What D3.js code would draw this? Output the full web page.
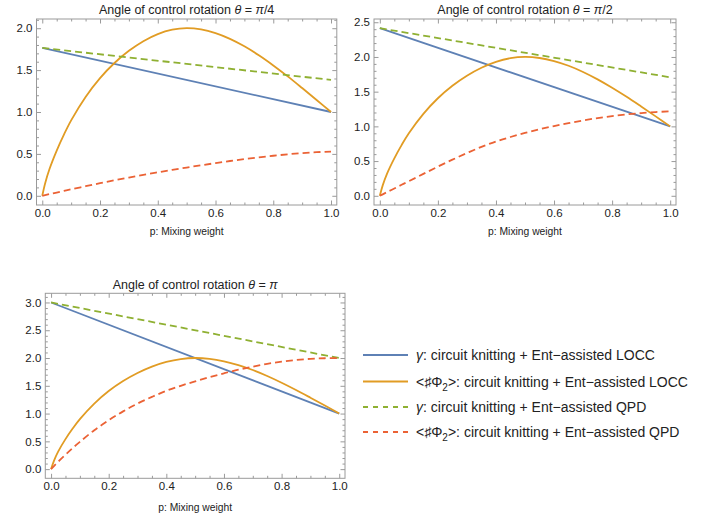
<!DOCTYPE html>
<html>
<head>
<meta charset="utf-8">
<script src="https://cdn.jsdelivr.net/npm/d3@7"></script>
<style>
body{margin:0;background:#fff}
text{font-family:"Liberation Sans",Arial,sans-serif;fill:#222}
</style>
</head>
<body>
<div id="vis"></div>
<script>
// ---- data ----
var thetaLabels = ["π/4", "π/2", "π"]
var pEnds = [0, 1]
var pGrid = [0, 0.01, 0.025, 0.05, 0.075, 0.1, 0.15, 0.2, 0.25, 0.3, 0.35, 0.4, 0.45, 0.5,
             0.55, 0.6, 0.65, 0.7, 0.75, 0.8, 0.85, 0.9, 0.95, 1]

// gamma, circuit knitting + Ent-assisted LOCC (straight lines)
var gammaLOCC = [[1.765, 1.0], [2.414, 1.0], [3.0, 1.0]]
// gamma, circuit knitting + Ent-assisted QPD (straight lines)
var gammaQPD = [[1.765, 1.383], [2.414, 1.707], [3.0, 2.0]]
// <#Phi2>, LOCC (same curve in all three panels)
var phiLOCC = [0, 0.15, 0.32, 0.54, 0.73, 0.90, 1.18, 1.405, 1.585, 1.73, 1.845, 1.93, 1.982, 2.0,
               1.985, 1.941, 1.873, 1.784, 1.677, 1.556, 1.425, 1.286, 1.144, 1.0]
// <#Phi2>, QPD, one row per panel
var phiQPD = [
  [0, 0.008, 0.02, 0.039, 0.058, 0.077, 0.114, 0.15, 0.185, 0.218, 0.25, 0.28, 0.309, 0.337,
   0.364, 0.39, 0.415, 0.438, 0.459, 0.478, 0.495, 0.51, 0.52, 0.528],
  [0, 0.021, 0.053, 0.105, 0.158, 0.21, 0.315, 0.42, 0.52, 0.615, 0.705, 0.782, 0.847, 0.905,
   0.958, 1.005, 1.047, 1.085, 1.119, 1.148, 1.172, 1.191, 1.206, 1.217],
  [0, 0.055, 0.135, 0.26, 0.38, 0.49, 0.70, 0.88, 1.04, 1.18, 1.30, 1.41, 1.50, 1.58,
   1.655, 1.725, 1.79, 1.845, 1.895, 1.935, 1.965, 1.985, 1.996, 2.0]
]

var xTicks = [0, 0.2, 0.4, 0.6, 0.8, 1.0]
var yTicks = [[0, 0.5, 1.0, 1.5, 2.0], [0, 0.5, 1.0, 1.5, 2.0, 2.5], [0, 0.5, 1.0, 1.5, 2.0, 2.5, 3.0]]
var xLabel = "p: Mixing weight"

var seriesColors = ["#5e81b5", "#e19c24", "#8fb032", "#eb6235"]
var legendNames = ["LOCC", "LOCC", "QPD", "QPD"]

// ---- layout ----
var W = 714, H = 518
var frames = [
  {x0: 36.5, x1: 336.8, y0: 19, y1: 205, titleY: 14, labelY: 235},
  {x0: 374, x1: 676, y0: 19, y1: 205, titleY: 14, labelY: 235},
  {x0: 45.3, x1: 345, y0: 293.3, y1: 478.3, titleY: 289, labelY: 511}
]

var svg = d3.select("#vis").append("svg").attr("width", W).attr("height", H)

function drawPanel(i){
    var f = frames[i]
    var g = svg.append("g")
    var ymax = d3.max([d3.max(gammaLOCC[i]), d3.max(gammaQPD[i]), d3.max(phiLOCC), d3.max(phiQPD[i])])
    var pad = 0.055 * ymax
    var x = d3.scaleLinear().domain([-0.02, 1.02]).range([f.x0, f.x1])
    var y = d3.scaleLinear().domain([-pad, ymax + pad]).range([f.y1, f.y0])

    // minor ticks
    var xMinor = d3.range(0, 1.001, 0.05).filter(function(v){ return xTicks.indexOf(+v.toFixed(2)) < 0 })
    var yMinor = d3.range(0, ymax + pad, 0.1).filter(function(v){ return Math.abs(v*2 - Math.round(v*2)) > 0.01 })

    function axis(a, scale, vals, size, pos, label){
        var ax = a(scale).tickValues(vals).tickSizeInner(-size).tickSizeOuter(0).tickPadding(4)
        ax.tickFormat(label ? d3.format(".1f") : "")
        var gg = g.append("g").attr("transform", pos).call(ax)
        gg.select(".domain").remove()
        gg.selectAll("line").attr("stroke", "#9a9a9a")
        gg.selectAll("text").attr("font-size", 11.5).attr("fill", "#333")
            .style("font-family", '"Liberation Sans",Arial,sans-serif')
        return gg
    }
    axis(d3.axisBottom, x, xTicks, 4.5, "translate(0," + f.y1 + ")", true)
    axis(d3.axisBottom, x, xMinor, 2.5, "translate(0," + f.y1 + ")", false)
    axis(d3.axisTop, x, xTicks, 4.5, "translate(0," + f.y0 + ")", false)
    axis(d3.axisTop, x, xMinor, 2.5, "translate(0," + f.y0 + ")", false)
    axis(d3.axisLeft, y, yTicks[i], 4.5, "translate(" + f.x0 + ",0)", true)
    axis(d3.axisLeft, y, yMinor, 2.5, "translate(" + f.x0 + ",0)", false)
    axis(d3.axisRight, y, yTicks[i], 4.5, "translate(" + f.x1 + ",0)", false)
    axis(d3.axisRight, y, yMinor, 2.5, "translate(" + f.x1 + ",0)", false)

    g.append("rect").attr("x", f.x0).attr("y", f.y0)
        .attr("width", f.x1 - f.x0).attr("height", f.y1 - f.y0)
        .attr("fill", "none").attr("stroke", "#9a9a9a").attr("stroke-width", 1)

    // curves
    var clip = "clip" + i
    g.append("clipPath").attr("id", clip).append("rect")
        .attr("x", f.x0).attr("y", f.y0).attr("width", f.x1 - f.x0).attr("height", f.y1 - f.y0)
    var plot = g.append("g").attr("clip-path", "url(#" + clip + ")")
    var straight = d3.line().x(function(d){ return x(d[0]) }).y(function(d){ return y(d[1]) })
    var smooth = d3.line().x(function(d){ return x(d[0]) }).y(function(d){ return y(d[1]) }).curve(d3.curveCatmullRom)

    var series = [
        {pts: d3.zip(pEnds, gammaLOCC[i]), line: straight, dash: null},
        {pts: d3.zip(pGrid, phiLOCC), line: smooth, dash: null},
        {pts: d3.zip(pEnds, gammaQPD[i]), line: straight, dash: "7,4"},
        {pts: d3.zip(pGrid, phiQPD[i]), line: smooth, dash: "7,4"}
    ]
    series.forEach(function(s, k){
        plot.append("path").attr("d", s.line(s.pts))
            .attr("fill", "none").attr("stroke", seriesColors[k])
            .attr("stroke-width", 1.8)
            .attr("stroke-dasharray", s.dash)
    })

    // title
    var t = g.append("text").attr("x", (f.x0 + f.x1) / 2).attr("y", f.titleY)
        .attr("text-anchor", "middle").attr("font-size", 12.5)
    t.append("tspan").text("Angle of control rotation ")
    t.append("tspan").attr("font-style", "italic").text("θ")
    t.append("tspan").text(" = ")
    var th = thetaLabels[i]
    t.append("tspan").attr("font-style", "italic").text("π")
    if (th.length > 1) t.append("tspan").text(th.slice(1))

    // x label
    g.append("text").attr("x", (f.x0 + f.x1) / 2).attr("y", f.labelY)
        .attr("text-anchor", "middle").attr("font-size", 10.3).text(xLabel)
}

for (var i = 0; i < 3; i++) drawPanel(i)

// legend
var legendRows = [355, 381.5, 407, 432]
var leg = svg.append("g")
legendRows.forEach(function(ry, k){
    leg.append("line").attr("x1", 363).attr("x2", 408).attr("y1", ry).attr("y2", ry)
        .attr("stroke", seriesColors[k]).attr("stroke-width", 1.8)
        .attr("stroke-dasharray", k >= 2 ? "5,5" : null)
    var t = leg.append("text").attr("x", 416).attr("y", ry + 5).attr("font-size", 14)
    if (k % 2 == 0){
        t.append("tspan").attr("font-style", "italic").text("γ")
    } else {
        t.append("tspan").text("<♯Φ")
        t.append("tspan").attr("font-size", 10).attr("dy", 4).text("2")
        t.append("tspan").attr("dy", -4).text(">")
    }
    t.append("tspan").text(": circuit knitting + Ent−assisted " + legendNames[k])
})
</script>
</body>
</html>
